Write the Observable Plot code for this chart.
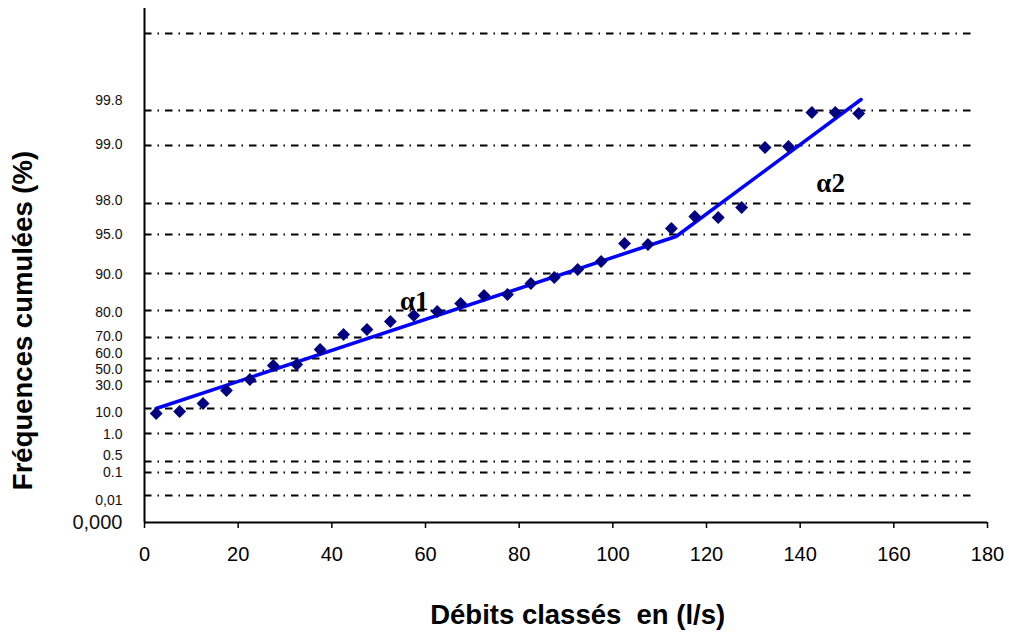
<!DOCTYPE html>
<html>
<head>
<meta charset="utf-8">
<script src="https://cdn.jsdelivr.net/npm/d3@7"></script>
<script src="https://cdn.jsdelivr.net/npm/@observablehq/plot@0.6"></script>
<style>
  html, body { margin: 0; padding: 0; background: #fff; }
  #chart { width: 1009px; height: 637px; }
</style>
</head>
<body>
<div id="chart"></div>
<script>
// Class midpoints of flow (l/s)
const classX = [2.5, 7.5, 12.5, 17.5, 22.5, 27.5, 32.5, 37.5, 42.5, 47.5, 52.5, 57.5, 62.5, 67.5, 72.5, 77.5, 82.5, 87.5, 92.5, 97.5, 102.5, 107.5, 112.5, 117.5, 122.5, 127.5, 132.5, 137.5, 142.5, 147.5, 152.5];
// Cumulative frequency, as position on the probability paper (reduced variate units)
const freqPos = [109, 111, 119, 132, 143, 157, 158, 173, 188, 193, 201, 207, 211, 219, 227, 228, 239, 245, 253, 261, 279, 278, 294, 306, 305, 315, 375, 376, 410, 410, 409];
// Fitted broken line (alpha1, alpha2)
const fitX = [2.5, 113.5, 153];
const fitPos = [114, 286, 423];
// Probability-paper grid levels
const gridPos = [489, 412, 377, 319, 288, 249, 212, 185, 164, 152, 141, 114, 89, 61, 50, 27];
const tickLabels = ["99.8", "99.0", "98.0", "95.0", "90.0", "80.0", "70.0", "60.0", "50.0", "30.0", "10.0", "1.0", "0.5", "0.1", "0,01", "0,000"];
const labelPos = [422, 378, 322, 288, 248, 210, 186, 169, 153, 137, 110, 88, 67, 50, 22, 0];
const xTicks = [0, 20, 40, 60, 80, 100, 120, 140, 160, 180];
const slopeNames = ["α1", "α2"];
const slopeX = [57.6, 146.5];
const slopePos = [221, 339];
const gridEnd = 176.5;

const points = classX.map((x, i) => ({x, y: freqPos[i]}));
const fit = fitX.map((x, i) => ({x, y: fitPos[i]}));
const labels = tickLabels.map((t, i) => ({t, y: labelPos[i]}));
const slopes = slopeNames.map((t, i) => ({t, x: slopeX[i], y: slopePos[i]}));

const chart = Plot.plot({
  width: 1009,
  height: 637,
  marginLeft: 144,
  marginRight: 22,
  marginTop: 8,
  marginBottom: 115,
  style: {fontFamily: "'Liberation Sans', Arial, sans-serif", fontSize: "20px", background: "#fff", color: "#000", overflow: "visible"},
  x: {domain: [0, 180], axis: null},
  y: {domain: [0, 514], axis: null},
  marks: [
    Plot.ruleY(gridPos, {x1: 0, x2: gridEnd, stroke: "#000", strokeWidth: 1.8, strokeDasharray: "7.5,6,1.5,6"}),
    Plot.ruleX([0], {stroke: "#000", strokeWidth: 2}),
    Plot.ruleY([0], {stroke: "#000", strokeWidth: 2}),
    Plot.axisX({ticks: xTicks, tickSize: 6, tickPadding: 18, fontSize: 20, strokeWidth: 1.5, label: null, tickFormat: d => String(d)}),
    Plot.text(labels, {x: 0, y: "y", text: "t", textAnchor: "end", dx: -22, fontSize: d => d.t === "0,000" ? 20 : 14, fill: "#111"}),
    Plot.line(fit, {x: "x", y: "y", stroke: "#0000ff", strokeWidth: 3.5}),
    Plot.dot(points, {x: "x", y: "y", symbol: "diamond2", r: 5.8, fill: "#000080", stroke: null}),
    Plot.text(slopes, {x: "x", y: "y", text: "t", fontFamily: "'Liberation Serif', 'Times New Roman', serif", fontWeight: "bold", fontSize: 27, fill: "#000"}),
    Plot.text([{t: "Fréquences cumulées (%)", x: -26, y: 202}], {x: "x", y: "y", text: "t", rotate: -90, fontWeight: "bold", fontSize: 27.5, fill: "#000"}),
    Plot.text([{t: "Débits classés  en (l/s)", x: 92.5, y: -93}], {x: "x", y: "y", text: "t", fontWeight: "bold", fontSize: 27.5, fill: "#000"})
  ]
});
document.getElementById("chart").appendChild(chart);
</script>
</body>
</html>
